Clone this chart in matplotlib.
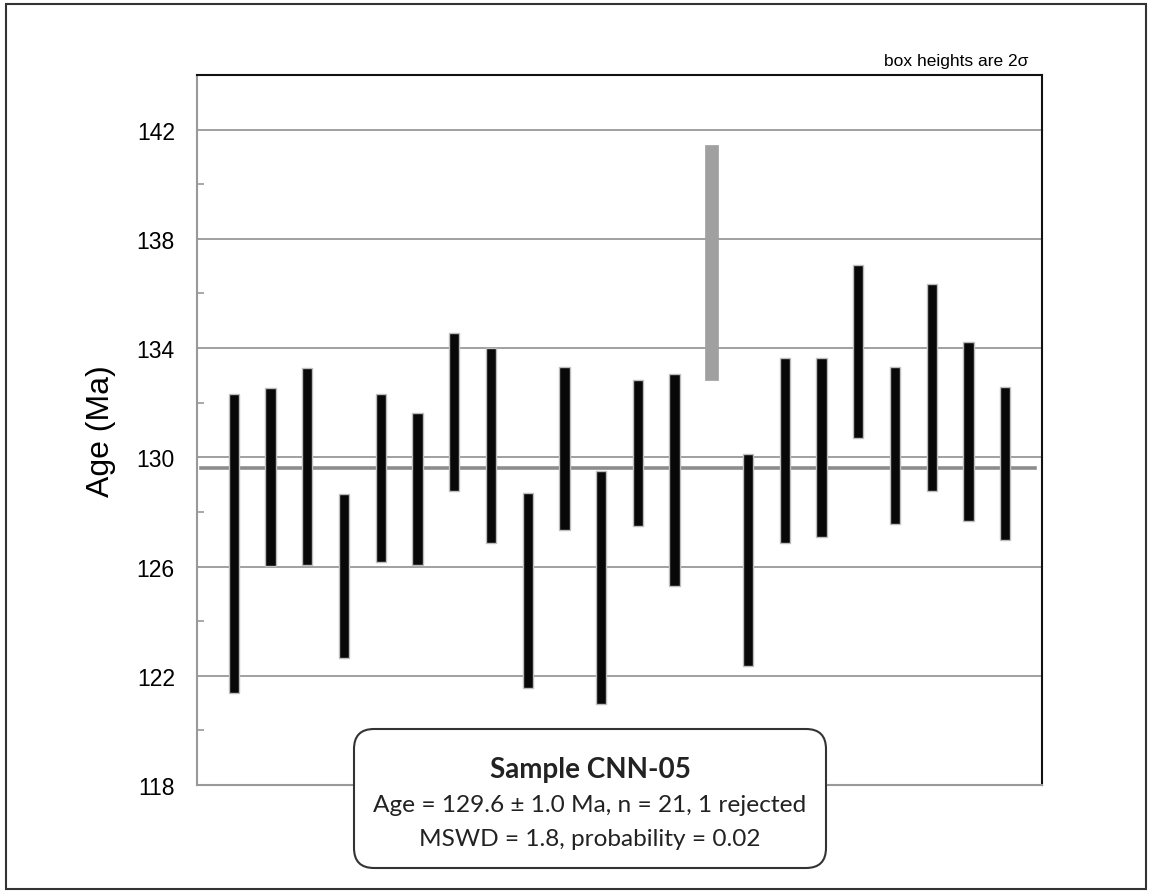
import numpy as np
import matplotlib
matplotlib.use("Agg")
import matplotlib.pyplot as plt
from matplotlib.patches import FancyBboxPatch, Rectangle
from matplotlib.transforms import IdentityTransform

# 2-sigma age boxes (Ma), one per analysis, left to right
box_low = [121.36, 126.02, 126.06, 122.65, 126.16, 126.06, 128.75, 126.88, 121.56, 127.34, 120.97,
           127.47, 125.29, 132.83, 122.37, 126.87, 127.09, 130.70, 127.56, 128.75, 127.67, 126.98]
box_high = [132.33, 132.55, 133.26, 128.67, 132.33, 131.63, 134.56, 134.01, 128.71, 133.31, 129.51,
            132.82, 133.04, 141.45, 130.11, 133.64, 133.64, 137.04, 133.32, 136.36, 134.23, 132.57]
rejected = [14]  # 1-based position of the rejected analysis
mean_age = 129.6

y_ticks = [118, 122, 126, 130, 134, 138, 142]

title_text = "Sample CNN-05"
line2_text = "Age = 129.6 \u00b1 1.0 Ma, n = 21, 1 rejected"
line3_text = "MSWD = 1.8, probability = 0.02"


def main():
    fig = plt.figure(figsize=(11.52, 8.95), dpi=100)
    ax = fig.add_axes([197 / 1152, 1 - 786 / 895, (1042 - 197) / 1152, (786 - 76) / 895])

    n = len(box_low)
    x = np.arange(1, n + 1)
    low = np.array(box_low)
    high = np.array(box_high)

    for i in range(n):
        if (i + 1) in rejected:
            ax.bar(x[i], high[i] - low[i], bottom=low[i], width=0.36,
                   color="#a0a0a0", edgecolor="#a0a0a0", linewidth=0.5, zorder=3)
        else:
            ax.bar(x[i], high[i] - low[i], bottom=low[i], width=0.28,
                   color="#080808", edgecolor="#bdbdbd", linewidth=1.0, zorder=3)

    ax.plot([0.12, 22.8], [mean_age, mean_age], color="#8c8c8c", linewidth=2.6, zorder=2)

    ax.set_xlim(0, 23)
    ax.set_ylim(118, 144)
    ax.set_xticks([])
    ax.set_yticks(y_ticks)
    ax.set_yticks(np.arange(120, 144, 4), minor=True)
    ax.yaxis.grid(True, which="major", color="#999999", linewidth=1.3, zorder=1)
    ax.set_axisbelow(True)
    ax.tick_params(axis="y", which="both", direction="in", color="#999999",
                   labelsize=16.5, pad=16)
    ax.tick_params(axis="y", which="major", length=0)
    ax.tick_params(axis="y", which="minor", length=5, width=1.2)
    for lab in ax.get_yticklabels():
        lab.set_fontfamily("Liberation Sans")

    ax.spines["left"].set_color("#999999")
    ax.spines["left"].set_linewidth(1.5)
    ax.spines["bottom"].set_color("#999999")
    ax.spines["bottom"].set_linewidth(1.5)
    ax.spines["top"].set_color("#111111")
    ax.spines["top"].set_linewidth(1.5)
    ax.spines["right"].set_color("#111111")
    ax.spines["right"].set_linewidth(1.5)

    ax.set_ylabel("Age (Ma)", fontsize=23, fontfamily="Liberation Sans", labelpad=15)

    fig.text(1028 / 1152, 1 - 66 / 895, "box heights are 2\u03c3", ha="right", va="baseline",
             fontsize=12.5, fontfamily="Liberation Sans")

    # info box drawn in pixel coordinates so the corners stay round
    box = FancyBboxPatch((354, 895 - 869), 472, 139,
                         boxstyle="round,pad=0,rounding_size=20",
                         transform=IdentityTransform(), facecolor="white",
                         edgecolor="#333333", linewidth=1.5, zorder=5)
    fig.patches.append(box)

    cx = 590 / 1152
    fig.text(cx, 1 - 778 / 895, title_text, ha="center", va="baseline", fontsize=20,
             fontweight="bold", fontfamily="Lato", color="#222222", zorder=6)
    fig.text(cx, 1 - 812 / 895, line2_text, ha="center", va="baseline", fontsize=17.6,
             fontfamily="Lato", color="#222222", zorder=6)
    fig.text(cx, 1 - 846 / 895, line3_text, ha="center", va="baseline", fontsize=17.6,
             fontfamily="Lato", color="#222222", zorder=6)

    # outer frame around the whole figure
    frame = Rectangle((6, 5), 1140, 885, transform=IdentityTransform(), fill=False,
                      edgecolor="#333333", linewidth=1.5, zorder=0)
    fig.patches.append(frame)

    fig.savefig("out.png", dpi=100)


if __name__ == "__main__":
    main()
